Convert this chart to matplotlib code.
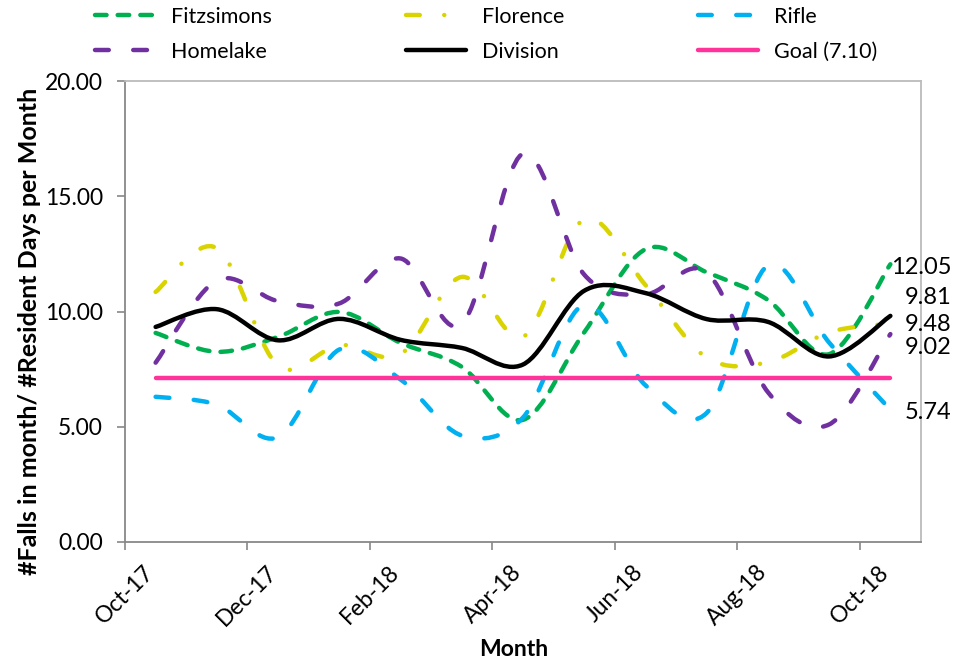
import matplotlib
matplotlib.use("Agg")
import matplotlib.pyplot as plt
import numpy as np
from matplotlib.path import Path
from matplotlib.patches import PathPatch
from matplotlib.lines import Line2D

# monthly falls rate per facility (Oct-17 .. Oct-18)
months = ["Oct-17", "Nov-17", "Dec-17", "Jan-18", "Feb-18", "Mar-18", "Apr-18",
          "May-18", "Jun-18", "Jul-18", "Aug-18", "Sep-18", "Oct-18"]
fitzsimons = [9.07, 8.25, 8.9, 9.98, 8.64, 7.6, 5.3, 9.1, 12.7, 11.7, 10.5, 8.15, 12.05]
florence = [10.85, 12.75, 7.65, 8.55, 8.15, 11.5, 8.9, 14.0, 11.15, 8.0, 7.8, 9.1, 9.48]
rifle = [6.3, 5.96, 4.55, 8.35, 7.05, 4.62, 5.4, 10.3, 6.8, 5.6, 12.0, 8.65, 5.74]
homelake = [7.78, 11.35, 10.45, 10.35, 12.3, 9.45, 16.85, 11.6, 10.75, 11.7, 6.5, 5.1, 9.02]
division = [9.33, 10.1, 8.75, 9.68, 8.77, 8.42, 7.7, 10.9, 10.8, 9.67, 9.55, 8.05, 9.81]
goal = 7.10

tick_labels = ["Oct-17", "Dec-17", "Feb-18", "Apr-18", "Jun-18", "Aug-18", "Oct-18"]

FONT = ["Lato", "DejaVu Sans"]
plt.rcParams["font.family"] = FONT


def smooth_path(ys):
    # Excel-style smoothed line: cubic bezier segments through every point
    pts = np.column_stack([np.arange(len(ys)), ys]).astype(float)
    n = len(pts)
    verts = [pts[0]]
    codes = [Path.MOVETO]
    for i in range(n - 1):
        p0 = pts[max(i - 1, 0)]
        p1 = pts[i]
        p2 = pts[i + 1]
        p3 = pts[min(i + 2, n - 1)]
        verts += [p1 + (p2 - p0) / 6, p2 - (p3 - p1) / 6, p2]
        codes += [Path.CURVE4] * 3
    return Path(verts, codes)


LW = 3.2
series = [
    ("Fitzsimons", fitzsimons, "#00B050", (0, (2.6, 2.5))),
    ("Florence", florence, "#D9D400", (0, (3.1, 5.5, 0.01, 5.5))),
    ("Rifle", rifle, "#00B0F0", (0, (3.1, 5.5))),
    ("Homelake", homelake, "#7030A0", (0, (3.1, 5.5))),
    ("Division", division, "#000000", "solid"),
]

fig = plt.figure(figsize=(9.56, 6.62), dpi=100)
ax = fig.add_axes([125 / 956, 1 - 542 / 662, (921 - 125) / 956, (542 - 81) / 662])

handles = {}
for name, vals, color, ls in series:
    patch = PathPatch(smooth_path(vals), fill=False, edgecolor=color, lw=LW,
                      linestyle=ls, capstyle="round", joinstyle="round", zorder=3)
    ax.add_patch(patch)
    handles[name] = Line2D([], [], color=color, lw=LW, linestyle=ls,
                           dash_capstyle="round", solid_capstyle="round")

ax.plot([0, len(months) - 1], [goal, goal], color="#FF3399", lw=LW,
        solid_capstyle="round", zorder=4)
handles["Goal (7.10)"] = Line2D([], [], color="#FF3399", lw=LW, solid_capstyle="round")

ax.set_xlim(-0.5, 12.5)
ax.set_ylim(0, 20)
ax.set_xticks(np.arange(-0.5, 12, 2))
ax.set_xticklabels(tick_labels, rotation=45, ha="center", fontsize=16.5)
ax.set_yticks(np.arange(0, 21, 5))
ax.set_yticklabels([f"{v:.2f}" for v in np.arange(0, 21, 5)], fontsize=16.5)
ax.tick_params(axis="both", direction="out", length=6, width=1.2, color="#888888")
ax.tick_params(axis="x", pad=8)
ax.tick_params(axis="y", pad=10)

for side in ["left", "bottom"]:
    ax.spines[side].set_color("#888888")
    ax.spines[side].set_linewidth(1.3)
for side in ["top", "right"]:
    ax.spines[side].set_color("#BBBBBB")
    ax.spines[side].set_linewidth(1.3)

# end-of-line data labels
last = len(months) - 1
label_offsets = {"Fitzsimons": -2, "Division": 13, "Florence": -1, "Homelake": -10, "Rifle": -2}
for name, vals, color, ls in series:
    ax.annotate(f"{vals[-1]:.2f}", xy=(last, vals[-1]), xytext=(44, label_offsets[name]),
                textcoords="offset points", ha="right", va="center", fontsize=17,
                annotation_clip=False)

fig.text(514 / 956, 1 - 650 / 662, "Month", ha="center", va="center",
         fontsize=16.5, fontweight="bold")
fig.text(30 / 956, 1 - 331 / 662, "#Falls in month/ #Resident Days per Month",
         ha="center", va="center", rotation=90, fontsize=18, fontweight="bold")

order = ["Fitzsimons", "Homelake", "Florence", "Division", "Rifle", "Goal (7.10)"]
fig.legend([handles[k] for k in order], order, ncol=3, loc="upper left",
           bbox_to_anchor=(95 / 956, 1 - 7 / 662), frameon=False, fontsize=15.5,
           handlelength=2.8, handletextpad=0.75, columnspacing=6.2,
           labelspacing=0.68, borderpad=0, borderaxespad=0)

fig.savefig("out.png", dpi=100)
